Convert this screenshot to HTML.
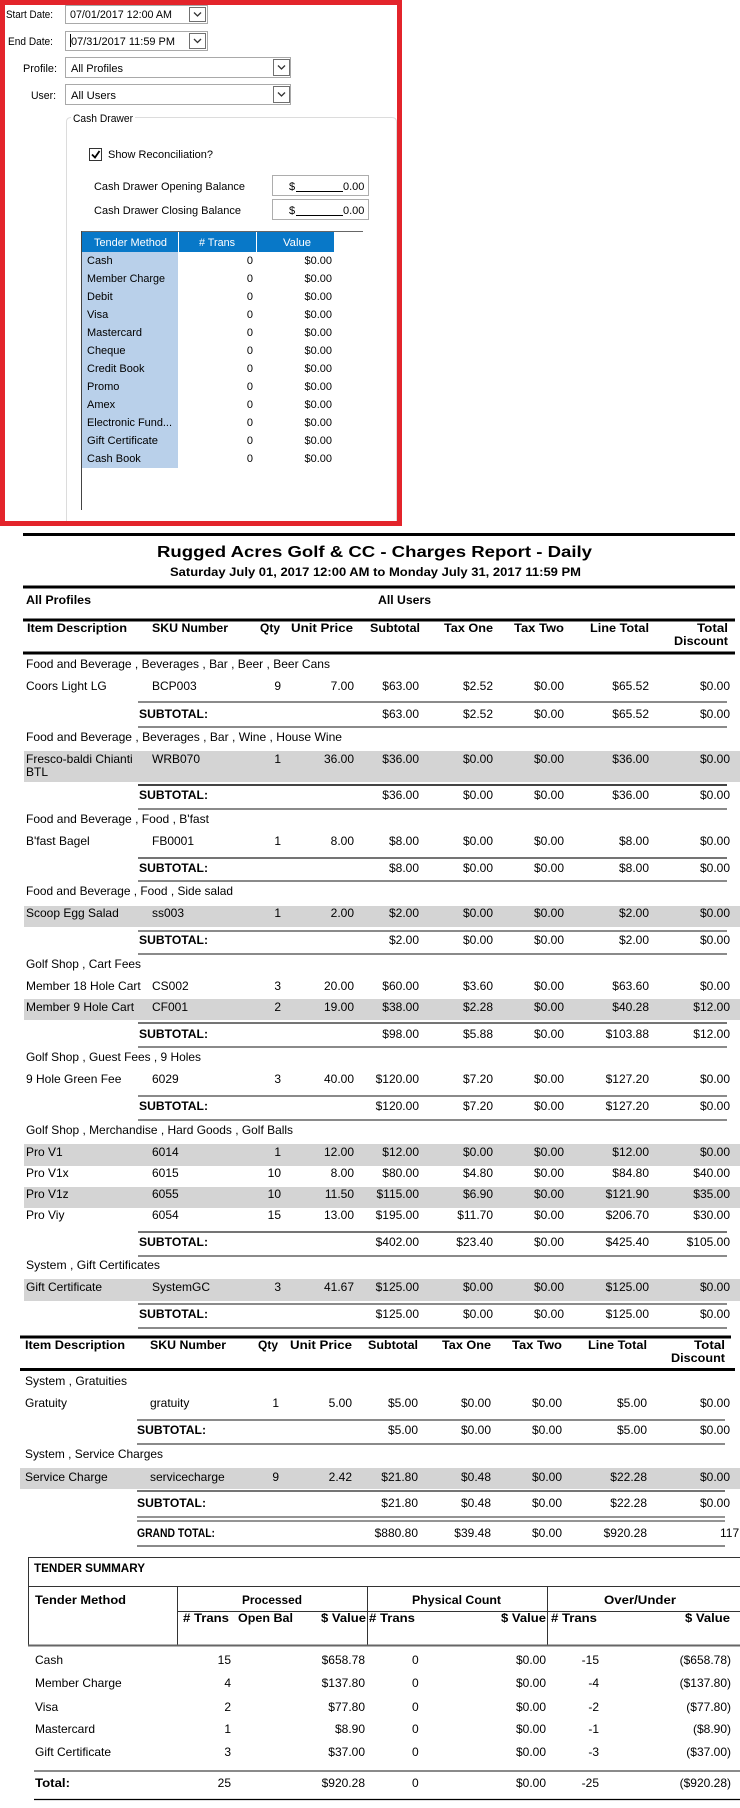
<!DOCTYPE html>
<html><head><meta charset="utf-8"><style>
html,body{margin:0;padding:0;background:#fff;}
svg{display:block;}
text{font-family:"Liberation Sans",Arial,sans-serif;font-size:12px;fill:#000;}
.u{font-size:11px;}
.b{font-weight:bold;}
.e{text-anchor:end;}
.m{text-anchor:middle;}
.w{fill:#fff;}
.g{stroke:#8a8a8a;stroke-width:2;}
.k{stroke:#222;stroke-width:1.3;}
.t{stroke:#000;stroke-width:3;}
</style></head><body>
<svg width="740" height="1808" viewBox="0 0 740 1808" xmlns="http://www.w3.org/2000/svg">
<defs>
<clipPath id="c1"><rect x="273" y="176" width="92" height="19"/></clipPath>
<clipPath id="c2"><rect x="273" y="200" width="92" height="19"/></clipPath>
</defs>
<rect width="740" height="1808" fill="#fff"/>

<!-- ===== TOP UI PANEL ===== -->
<text x="6" y="18" class="u" textLength="47" lengthAdjust="spacingAndGlyphs">Start Date:</text>
<rect x="65.5" y="5.5" width="142" height="18" fill="#fff" stroke="#a9a9a9"/>
<text x="70" y="18" class="u" textLength="102" lengthAdjust="spacingAndGlyphs">07/01/2017 12:00 AM</text>
<rect x="189.5" y="7.5" width="16" height="14" fill="#fff" stroke="#707070"/>
<polyline points="194,12.5 197.5,16 201,12.5" fill="none" stroke="#333" stroke-width="1.3"/>

<text x="8" y="45" class="u" textLength="45" lengthAdjust="spacingAndGlyphs">End Date:</text>
<rect x="65.5" y="31.5" width="142" height="19" fill="#fff" stroke="#a9a9a9"/>
<line x1="70.5" y1="34" x2="70.5" y2="47" stroke="#000"/>
<text x="71" y="45" class="u" textLength="104" lengthAdjust="spacingAndGlyphs">07/31/2017 11:59 PM</text>
<rect x="189.5" y="33.5" width="16" height="15" fill="#fff" stroke="#707070"/>
<polyline points="194,39 197.5,42.5 201,39" fill="none" stroke="#333" stroke-width="1.3"/>

<text x="23" y="72" class="u" textLength="34" lengthAdjust="spacingAndGlyphs">Profile:</text>
<rect x="65.5" y="57.5" width="225" height="20" fill="#fff" stroke="#a9a9a9"/>
<text x="71" y="72" class="u" textLength="52" lengthAdjust="spacingAndGlyphs">All Profiles</text>
<rect x="273.5" y="59.5" width="16" height="16" fill="#fff" stroke="#707070"/>
<polyline points="278,65.5 281.5,69 285,65.5" fill="none" stroke="#333" stroke-width="1.3"/>

<text x="31" y="99" class="u" textLength="25" lengthAdjust="spacingAndGlyphs">User:</text>
<rect x="65.5" y="84.5" width="225" height="20" fill="#fff" stroke="#a9a9a9"/>
<text x="71" y="99" class="u" textLength="45" lengthAdjust="spacingAndGlyphs">All Users</text>
<rect x="273.5" y="86.5" width="16" height="16" fill="#fff" stroke="#707070"/>
<polyline points="278,92.5 281.5,96 285,92.5" fill="none" stroke="#333" stroke-width="1.3"/>

<path d="M66.5,522 V122 Q66.5,117.5 71,117.5 H392 Q396.5,117.5 396.5,122 V522" fill="none" stroke="#dcdcdc"/>
<rect x="71" y="110" width="64" height="14" fill="#fff"/>
<text x="73" y="122" class="u" textLength="60" lengthAdjust="spacingAndGlyphs">Cash Drawer</text>

<rect x="89.5" y="148.5" width="12" height="12" fill="#fff" stroke="#333"/>
<polyline points="92,154.5 95,157.5 99.5,151" fill="none" stroke="#000" stroke-width="1.8"/>
<text x="108" y="158" class="u" textLength="105" lengthAdjust="spacingAndGlyphs">Show Reconciliation?</text>

<text x="94" y="190" class="u" textLength="151" lengthAdjust="spacingAndGlyphs">Cash Drawer Opening Balance</text>
<rect x="272.5" y="175.5" width="96" height="20" fill="#fff" stroke="#adadad"/>
<g clip-path="url(#c1)"><text x="289" y="190" class="u">$</text><line x1="296" y1="191.5" x2="343" y2="191.5" stroke="#000"/><text x="343" y="190" class="u">0.00</text></g>

<text x="94" y="214" class="u" textLength="147" lengthAdjust="spacingAndGlyphs">Cash Drawer Closing Balance</text>
<rect x="272.5" y="199.5" width="96" height="20" fill="#fff" stroke="#adadad"/>
<g clip-path="url(#c2)"><text x="289" y="214" class="u">$</text><line x1="296" y1="215.5" x2="343" y2="215.5" stroke="#000"/><text x="343" y="214" class="u">0.00</text></g>

<line x1="81" y1="231.5" x2="363" y2="231.5" stroke="#666"/>
<rect x="82" y="232" width="96" height="20" fill="#0878c8"/>
<rect x="179" y="232" width="77" height="20" fill="#0878c8"/>
<rect x="257" y="232" width="77" height="20" fill="#0878c8"/>
<text x="94" y="246" class="u w" textLength="73" lengthAdjust="spacingAndGlyphs">Tender Method</text>
<text x="199" y="246" class="u w" textLength="36" lengthAdjust="spacingAndGlyphs"># Trans</text>
<text x="283" y="246" class="u w" textLength="28" lengthAdjust="spacingAndGlyphs">Value</text>
<rect x="82" y="252" width="96" height="216" fill="#b9d0ea"/>
<line x1="81.5" y1="231" x2="81.5" y2="510" stroke="#444"/>
<g class="u">
<text x="87" y="264" class="u">Cash</text><text x="253" y="264" class="u e">0</text><text x="332" y="264" class="u e">$0.00</text>
<text x="87" y="282" class="u" textLength="78" lengthAdjust="spacingAndGlyphs">Member Charge</text><text x="253" y="282" class="u e">0</text><text x="332" y="282" class="u e">$0.00</text>
<text x="87" y="300" class="u">Debit</text><text x="253" y="300" class="u e">0</text><text x="332" y="300" class="u e">$0.00</text>
<text x="87" y="318" class="u">Visa</text><text x="253" y="318" class="u e">0</text><text x="332" y="318" class="u e">$0.00</text>
<text x="87" y="336" class="u">Mastercard</text><text x="253" y="336" class="u e">0</text><text x="332" y="336" class="u e">$0.00</text>
<text x="87" y="354" class="u">Cheque</text><text x="253" y="354" class="u e">0</text><text x="332" y="354" class="u e">$0.00</text>
<text x="87" y="372" class="u">Credit Book</text><text x="253" y="372" class="u e">0</text><text x="332" y="372" class="u e">$0.00</text>
<text x="87" y="390" class="u">Promo</text><text x="253" y="390" class="u e">0</text><text x="332" y="390" class="u e">$0.00</text>
<text x="87" y="408" class="u">Amex</text><text x="253" y="408" class="u e">0</text><text x="332" y="408" class="u e">$0.00</text>
<text x="87" y="426" class="u" textLength="85" lengthAdjust="spacingAndGlyphs">Electronic Fund...</text><text x="253" y="426" class="u e">0</text><text x="332" y="426" class="u e">$0.00</text>
<text x="87" y="444" class="u" textLength="71" lengthAdjust="spacingAndGlyphs">Gift Certificate</text><text x="253" y="444" class="u e">0</text><text x="332" y="444" class="u e">$0.00</text>
<text x="87" y="462" class="u">Cash Book</text><text x="253" y="462" class="u e">0</text><text x="332" y="462" class="u e">$0.00</text>
</g>
<rect x="2.5" y="2.5" width="397" height="521" fill="none" stroke="#e3242b" stroke-width="5"/>

<!-- ===== REPORT ===== -->
<line x1="23" y1="534.5" x2="735" y2="534.5" class="t"/>
<text x="157" y="557" class="b" style="font-size:16px" textLength="435" lengthAdjust="spacingAndGlyphs">Rugged Acres Golf &amp; CC - Charges Report - Daily</text>
<text x="170" y="576" class="b" style="font-size:11.5px" textLength="411" lengthAdjust="spacingAndGlyphs">Saturday July 01, 2017 12:00 AM to Monday July 31, 2017 11:59 PM</text>
<line x1="23" y1="587" x2="735" y2="587" class="t"/>
<text x="26" y="604" class="b" textLength="65" lengthAdjust="spacingAndGlyphs">All Profiles</text>
<text x="378" y="604" class="b" textLength="53" lengthAdjust="spacingAndGlyphs">All Users</text>
<line x1="23" y1="620" x2="735" y2="620" class="t"/>

<g class="b">
<text x="27" y="632" class="b" textLength="100" lengthAdjust="spacingAndGlyphs">Item Description</text>
<text x="152" y="632" class="b" textLength="76" lengthAdjust="spacingAndGlyphs">SKU Number</text>
<text x="260" y="632" class="b" textLength="20" lengthAdjust="spacingAndGlyphs">Qty</text>
<text x="291" y="632" class="b" textLength="62" lengthAdjust="spacingAndGlyphs">Unit Price</text>
<text x="370" y="632" class="b" textLength="50" lengthAdjust="spacingAndGlyphs">Subtotal</text>
<text x="444" y="632" class="b" textLength="49" lengthAdjust="spacingAndGlyphs">Tax One</text>
<text x="514" y="632" class="b" textLength="50" lengthAdjust="spacingAndGlyphs">Tax Two</text>
<text x="590" y="632" class="b" textLength="59" lengthAdjust="spacingAndGlyphs">Line Total</text>
<text x="697" y="632" class="b" textLength="31" lengthAdjust="spacingAndGlyphs">Total</text>
<text x="674" y="645" class="b" textLength="54" lengthAdjust="spacingAndGlyphs">Discount</text>
</g>
<line x1="23" y1="653" x2="735" y2="653" class="t"/>

<!-- group 1 -->
<text x="26" y="668" textLength="304" lengthAdjust="spacingAndGlyphs">Food and Beverage , Beverages , Bar , Beer , Beer Cans</text>
<text x="26" y="690">Coors Light LG</text><text x="152" y="690">BCP003</text><text x="281" y="690" class="e">9</text><text x="354" y="690" class="e">7.00</text><text x="419" y="690" class="e">$63.00</text><text x="493" y="690" class="e">$2.52</text><text x="564" y="690" class="e">$0.00</text><text x="649" y="690" class="e">$65.52</text><text x="730" y="690" class="e">$0.00</text>
<line x1="138" y1="702" x2="727" y2="702" class="g"/>
<text x="139" y="718" class="b" textLength="69" lengthAdjust="spacingAndGlyphs">SUBTOTAL:</text><text x="419" y="718" class="e">$63.00</text><text x="493" y="718" class="e">$2.52</text><text x="564" y="718" class="e">$0.00</text><text x="649" y="718" class="e">$65.52</text><text x="730" y="718" class="e">$0.00</text>
<line x1="138" y1="727" x2="727" y2="727" class="g"/>

<!-- group 2 -->
<text x="26" y="741" textLength="316" lengthAdjust="spacingAndGlyphs">Food and Beverage , Beverages , Bar , Wine , House Wine</text>
<rect x="24" y="751" width="716" height="31" fill="#d4d4d4"/>
<text x="26" y="763">Fresco-baldi Chianti</text><text x="26" y="776">BTL</text><text x="152" y="763">WRB070</text><text x="281" y="763" class="e">1</text><text x="354" y="763" class="e">36.00</text><text x="419" y="763" class="e">$36.00</text><text x="493" y="763" class="e">$0.00</text><text x="564" y="763" class="e">$0.00</text><text x="649" y="763" class="e">$36.00</text><text x="730" y="763" class="e">$0.00</text>
<line x1="138" y1="785" x2="727" y2="785" stroke="#444" stroke-width="2"/>
<text x="139" y="799" class="b" textLength="69" lengthAdjust="spacingAndGlyphs">SUBTOTAL:</text><text x="419" y="799" class="e">$36.00</text><text x="493" y="799" class="e">$0.00</text><text x="564" y="799" class="e">$0.00</text><text x="649" y="799" class="e">$36.00</text><text x="730" y="799" class="e">$0.00</text>
<line x1="138" y1="809" x2="727" y2="809" class="g"/>

<!-- group 3 -->
<text x="26" y="823" textLength="183" lengthAdjust="spacingAndGlyphs">Food and Beverage , Food , B'fast</text>
<text x="26" y="845">B'fast Bagel</text><text x="152" y="845">FB0001</text><text x="281" y="845" class="e">1</text><text x="354" y="845" class="e">8.00</text><text x="419" y="845" class="e">$8.00</text><text x="493" y="845" class="e">$0.00</text><text x="564" y="845" class="e">$0.00</text><text x="649" y="845" class="e">$8.00</text><text x="730" y="845" class="e">$0.00</text>
<line x1="138" y1="858" x2="727" y2="858" class="k"/>
<text x="139" y="872" class="b" textLength="69" lengthAdjust="spacingAndGlyphs">SUBTOTAL:</text><text x="419" y="872" class="e">$8.00</text><text x="493" y="872" class="e">$0.00</text><text x="564" y="872" class="e">$0.00</text><text x="649" y="872" class="e">$8.00</text><text x="730" y="872" class="e">$0.00</text>
<line x1="138" y1="881" x2="727" y2="881" class="g"/>

<!-- group 4 -->
<text x="26" y="895" textLength="207" lengthAdjust="spacingAndGlyphs">Food and Beverage , Food , Side salad</text>
<rect x="24" y="906" width="716" height="21" fill="#d4d4d4"/>
<text x="26" y="917">Scoop Egg Salad</text><text x="152" y="917">ss003</text><text x="281" y="917" class="e">1</text><text x="354" y="917" class="e">2.00</text><text x="419" y="917" class="e">$2.00</text><text x="493" y="917" class="e">$0.00</text><text x="564" y="917" class="e">$0.00</text><text x="649" y="917" class="e">$2.00</text><text x="730" y="917" class="e">$0.00</text>
<line x1="138" y1="931" x2="727" y2="931" class="g"/>
<text x="139" y="944" class="b" textLength="69" lengthAdjust="spacingAndGlyphs">SUBTOTAL:</text><text x="419" y="944" class="e">$2.00</text><text x="493" y="944" class="e">$0.00</text><text x="564" y="944" class="e">$0.00</text><text x="649" y="944" class="e">$2.00</text><text x="730" y="944" class="e">$0.00</text>
<line x1="138" y1="954" x2="727" y2="954" class="g"/>

<!-- group 5 -->
<text x="26" y="968" textLength="115" lengthAdjust="spacingAndGlyphs">Golf Shop , Cart Fees</text>
<text x="26" y="990">Member 18 Hole Cart</text><text x="152" y="990">CS002</text><text x="281" y="990" class="e">3</text><text x="354" y="990" class="e">20.00</text><text x="419" y="990" class="e">$60.00</text><text x="493" y="990" class="e">$3.60</text><text x="564" y="990" class="e">$0.00</text><text x="649" y="990" class="e">$63.60</text><text x="730" y="990" class="e">$0.00</text>
<rect x="24" y="999" width="716" height="21" fill="#d4d4d4"/>
<text x="26" y="1011">Member 9 Hole Cart</text><text x="152" y="1011">CF001</text><text x="281" y="1011" class="e">2</text><text x="354" y="1011" class="e">19.00</text><text x="419" y="1011" class="e">$38.00</text><text x="493" y="1011" class="e">$2.28</text><text x="564" y="1011" class="e">$0.00</text><text x="649" y="1011" class="e">$40.28</text><text x="730" y="1011" class="e">$12.00</text>
<line x1="138" y1="1023" x2="727" y2="1023" class="k"/>
<text x="139" y="1038" class="b" textLength="69" lengthAdjust="spacingAndGlyphs">SUBTOTAL:</text><text x="419" y="1038" class="e">$98.00</text><text x="493" y="1038" class="e">$5.88</text><text x="564" y="1038" class="e">$0.00</text><text x="649" y="1038" class="e">$103.88</text><text x="730" y="1038" class="e">$12.00</text>
<line x1="138" y1="1047" x2="727" y2="1047" class="g"/>

<!-- group 6 -->
<text x="26" y="1061" textLength="175" lengthAdjust="spacingAndGlyphs">Golf Shop , Guest Fees , 9 Holes</text>
<text x="26" y="1083">9 Hole Green Fee</text><text x="152" y="1083">6029</text><text x="281" y="1083" class="e">3</text><text x="354" y="1083" class="e">40.00</text><text x="419" y="1083" class="e">$120.00</text><text x="493" y="1083" class="e">$7.20</text><text x="564" y="1083" class="e">$0.00</text><text x="649" y="1083" class="e">$127.20</text><text x="730" y="1083" class="e">$0.00</text>
<line x1="138" y1="1096" x2="727" y2="1096" class="g"/>
<text x="139" y="1110" class="b" textLength="69" lengthAdjust="spacingAndGlyphs">SUBTOTAL:</text><text x="419" y="1110" class="e">$120.00</text><text x="493" y="1110" class="e">$7.20</text><text x="564" y="1110" class="e">$0.00</text><text x="649" y="1110" class="e">$127.20</text><text x="730" y="1110" class="e">$0.00</text>
<line x1="138" y1="1120" x2="727" y2="1120" class="g"/>

<!-- group 7 -->
<text x="26" y="1134" textLength="267" lengthAdjust="spacingAndGlyphs">Golf Shop , Merchandise , Hard Goods , Golf Balls</text>
<rect x="24" y="1144" width="716" height="22" fill="#d4d4d4"/>
<text x="26" y="1156">Pro V1</text><text x="152" y="1156">6014</text><text x="281" y="1156" class="e">1</text><text x="354" y="1156" class="e">12.00</text><text x="419" y="1156" class="e">$12.00</text><text x="493" y="1156" class="e">$0.00</text><text x="564" y="1156" class="e">$0.00</text><text x="649" y="1156" class="e">$12.00</text><text x="730" y="1156" class="e">$0.00</text>
<text x="26" y="1177">Pro V1x</text><text x="152" y="1177">6015</text><text x="281" y="1177" class="e">10</text><text x="354" y="1177" class="e">8.00</text><text x="419" y="1177" class="e">$80.00</text><text x="493" y="1177" class="e">$4.80</text><text x="564" y="1177" class="e">$0.00</text><text x="649" y="1177" class="e">$84.80</text><text x="730" y="1177" class="e">$40.00</text>
<rect x="24" y="1187" width="716" height="21" fill="#d4d4d4"/>
<text x="26" y="1198">Pro V1z</text><text x="152" y="1198">6055</text><text x="281" y="1198" class="e">10</text><text x="354" y="1198" class="e">11.50</text><text x="419" y="1198" class="e">$115.00</text><text x="493" y="1198" class="e">$6.90</text><text x="564" y="1198" class="e">$0.00</text><text x="649" y="1198" class="e">$121.90</text><text x="730" y="1198" class="e">$35.00</text>
<text x="26" y="1219">Pro Viy</text><text x="152" y="1219">6054</text><text x="281" y="1219" class="e">15</text><text x="354" y="1219" class="e">13.00</text><text x="419" y="1219" class="e">$195.00</text><text x="493" y="1219" class="e">$11.70</text><text x="564" y="1219" class="e">$0.00</text><text x="649" y="1219" class="e">$206.70</text><text x="730" y="1219" class="e">$30.00</text>
<line x1="138" y1="1232" x2="727" y2="1232" class="k"/>
<text x="139" y="1246" class="b" textLength="69" lengthAdjust="spacingAndGlyphs">SUBTOTAL:</text><text x="419" y="1246" class="e">$402.00</text><text x="493" y="1246" class="e">$23.40</text><text x="564" y="1246" class="e">$0.00</text><text x="649" y="1246" class="e">$425.40</text><text x="730" y="1246" class="e">$105.00</text>
<line x1="138" y1="1256" x2="727" y2="1256" class="g"/>

<!-- group 8 -->
<text x="26" y="1269" textLength="134" lengthAdjust="spacingAndGlyphs">System , Gift Certificates</text>
<rect x="24" y="1279" width="716" height="22" fill="#d4d4d4"/>
<text x="26" y="1291">Gift Certificate</text><text x="152" y="1291">SystemGC</text><text x="281" y="1291" class="e">3</text><text x="354" y="1291" class="e">41.67</text><text x="419" y="1291" class="e">$125.00</text><text x="493" y="1291" class="e">$0.00</text><text x="564" y="1291" class="e">$0.00</text><text x="649" y="1291" class="e">$125.00</text><text x="730" y="1291" class="e">$0.00</text>
<line x1="138" y1="1304" x2="727" y2="1304" class="g"/>
<text x="139" y="1318" class="b" textLength="69" lengthAdjust="spacingAndGlyphs">SUBTOTAL:</text><text x="419" y="1318" class="e">$125.00</text><text x="493" y="1318" class="e">$0.00</text><text x="564" y="1318" class="e">$0.00</text><text x="649" y="1318" class="e">$125.00</text><text x="730" y="1318" class="e">$0.00</text>
<line x1="138" y1="1328" x2="727" y2="1328" class="g"/>

<!-- header 2 -->
<line x1="20" y1="1337" x2="731" y2="1337" class="t"/>
<text x="25" y="1349" class="b" textLength="100" lengthAdjust="spacingAndGlyphs">Item Description</text>
<text x="150" y="1349" class="b" textLength="76" lengthAdjust="spacingAndGlyphs">SKU Number</text>
<text x="258" y="1349" class="b" textLength="20" lengthAdjust="spacingAndGlyphs">Qty</text>
<text x="290" y="1349" class="b" textLength="62" lengthAdjust="spacingAndGlyphs">Unit Price</text>
<text x="368" y="1349" class="b" textLength="50" lengthAdjust="spacingAndGlyphs">Subtotal</text>
<text x="442" y="1349" class="b" textLength="49" lengthAdjust="spacingAndGlyphs">Tax One</text>
<text x="512" y="1349" class="b" textLength="50" lengthAdjust="spacingAndGlyphs">Tax Two</text>
<text x="588" y="1349" class="b" textLength="59" lengthAdjust="spacingAndGlyphs">Line Total</text>
<text x="694" y="1349" class="b" textLength="31" lengthAdjust="spacingAndGlyphs">Total</text>
<text x="671" y="1362" class="b" textLength="54" lengthAdjust="spacingAndGlyphs">Discount</text>
<line x1="20" y1="1369.5" x2="735" y2="1369.5" class="t"/>

<!-- group 9 -->
<text x="25" y="1385" textLength="102" lengthAdjust="spacingAndGlyphs">System , Gratuities</text>
<text x="25" y="1407">Gratuity</text><text x="150" y="1407">gratuity</text><text x="279" y="1407" class="e">1</text><text x="352" y="1407" class="e">5.00</text><text x="418" y="1407" class="e">$5.00</text><text x="491" y="1407" class="e">$0.00</text><text x="562" y="1407" class="e">$0.00</text><text x="647" y="1407" class="e">$5.00</text><text x="730" y="1407" class="e">$0.00</text>
<line x1="137" y1="1420" x2="725" y2="1420" class="g"/>
<text x="137" y="1434" class="b" textLength="69" lengthAdjust="spacingAndGlyphs">SUBTOTAL:</text><text x="418" y="1434" class="e">$5.00</text><text x="491" y="1434" class="e">$0.00</text><text x="562" y="1434" class="e">$0.00</text><text x="647" y="1434" class="e">$5.00</text><text x="730" y="1434" class="e">$0.00</text>
<line x1="137" y1="1444" x2="725" y2="1444" class="g"/>

<!-- group 10 -->
<text x="25" y="1458" textLength="138" lengthAdjust="spacingAndGlyphs">System , Service Charges</text>
<rect x="20" y="1468" width="720" height="21" fill="#d4d4d4"/>
<text x="25" y="1481">Service Charge</text><text x="150" y="1481">servicecharge</text><text x="279" y="1481" class="e">9</text><text x="352" y="1481" class="e">2.42</text><text x="418" y="1481" class="e">$21.80</text><text x="491" y="1481" class="e">$0.48</text><text x="562" y="1481" class="e">$0.00</text><text x="647" y="1481" class="e">$22.28</text><text x="730" y="1481" class="e">$0.00</text>
<line x1="137" y1="1491" x2="725" y2="1491" class="k"/>
<text x="137" y="1507" class="b" textLength="69" lengthAdjust="spacingAndGlyphs">SUBTOTAL:</text><text x="418" y="1507" class="e">$21.80</text><text x="491" y="1507" class="e">$0.48</text><text x="562" y="1507" class="e">$0.00</text><text x="647" y="1507" class="e">$22.28</text><text x="730" y="1507" class="e">$0.00</text>
<line x1="137" y1="1517" x2="725" y2="1517" stroke="#555" stroke-width="1.2"/>
<line x1="137" y1="1521" x2="725" y2="1521" stroke="#555" stroke-width="1.2"/>
<text x="137" y="1537" class="b" textLength="78" lengthAdjust="spacingAndGlyphs">GRAND TOTAL:</text><text x="418" y="1537" class="e">$880.80</text><text x="491" y="1537" class="e">$39.48</text><text x="562" y="1537" class="e">$0.00</text><text x="647" y="1537" class="e">$920.28</text><text x="720" y="1537">117</text>
<line x1="137" y1="1546" x2="725" y2="1546" class="g"/>

<!-- ===== TENDER SUMMARY ===== -->
<line x1="28" y1="1557.5" x2="740" y2="1557.5" stroke="#333"/>
<line x1="28.5" y1="1557" x2="28.5" y2="1646" stroke="#333"/>
<text x="34" y="1572" class="b" textLength="111" lengthAdjust="spacingAndGlyphs">TENDER SUMMARY</text>
<line x1="28" y1="1586.5" x2="740" y2="1586.5" stroke="#333"/>
<line x1="177.5" y1="1586" x2="177.5" y2="1645" stroke="#333"/>
<line x1="367.5" y1="1586" x2="367.5" y2="1645" stroke="#333"/>
<line x1="547.5" y1="1586" x2="547.5" y2="1645" stroke="#333"/>
<line x1="177" y1="1611.5" x2="740" y2="1611.5" stroke="#333"/>
<line x1="28" y1="1645.5" x2="740" y2="1645.5" stroke="#666" stroke-width="2"/>
<text x="35" y="1604" class="b" textLength="91" lengthAdjust="spacingAndGlyphs">Tender Method</text>
<text x="242" y="1604" class="b" textLength="60" lengthAdjust="spacingAndGlyphs">Processed</text>
<text x="412" y="1604" class="b" textLength="89" lengthAdjust="spacingAndGlyphs">Physical Count</text>
<text x="604" y="1604" class="b" textLength="72" lengthAdjust="spacingAndGlyphs">Over/Under</text>
<text x="183" y="1622" class="b" textLength="46" lengthAdjust="spacingAndGlyphs"># Trans</text>
<text x="238" y="1622" class="b" textLength="55" lengthAdjust="spacingAndGlyphs">Open Bal</text>
<text x="321" y="1622" class="b" textLength="45" lengthAdjust="spacingAndGlyphs">$ Value</text>
<text x="369" y="1622" class="b" textLength="46" lengthAdjust="spacingAndGlyphs"># Trans</text>
<text x="501" y="1622" class="b" textLength="45" lengthAdjust="spacingAndGlyphs">$ Value</text>
<text x="551" y="1622" class="b" textLength="46" lengthAdjust="spacingAndGlyphs"># Trans</text>
<text x="685" y="1622" class="b" textLength="45" lengthAdjust="spacingAndGlyphs">$ Value</text>

<text x="35" y="1664">Cash</text><text x="231" y="1664" class="e">15</text><text x="365" y="1664" class="e">$658.78</text><text x="412" y="1664">0</text><text x="546" y="1664" class="e">$0.00</text><text x="599" y="1664" class="e">-15</text><text x="731" y="1664" class="e">($658.78)</text>
<text x="35" y="1687">Member Charge</text><text x="231" y="1687" class="e">4</text><text x="365" y="1687" class="e">$137.80</text><text x="412" y="1687">0</text><text x="546" y="1687" class="e">$0.00</text><text x="599" y="1687" class="e">-4</text><text x="731" y="1687" class="e">($137.80)</text>
<text x="35" y="1711">Visa</text><text x="231" y="1711" class="e">2</text><text x="365" y="1711" class="e">$77.80</text><text x="412" y="1711">0</text><text x="546" y="1711" class="e">$0.00</text><text x="599" y="1711" class="e">-2</text><text x="731" y="1711" class="e">($77.80)</text>
<text x="35" y="1733">Mastercard</text><text x="231" y="1733" class="e">1</text><text x="365" y="1733" class="e">$8.90</text><text x="412" y="1733">0</text><text x="546" y="1733" class="e">$0.00</text><text x="599" y="1733" class="e">-1</text><text x="731" y="1733" class="e">($8.90)</text>
<text x="35" y="1756">Gift Certificate</text><text x="231" y="1756" class="e">3</text><text x="365" y="1756" class="e">$37.00</text><text x="412" y="1756">0</text><text x="546" y="1756" class="e">$0.00</text><text x="599" y="1756" class="e">-3</text><text x="731" y="1756" class="e">($37.00)</text>
<line x1="34" y1="1771" x2="740" y2="1771" class="g"/>
<text x="35" y="1787" class="b" textLength="35" lengthAdjust="spacingAndGlyphs">Total:</text><text x="231" y="1787" class="e">25</text><text x="365" y="1787" class="e">$920.28</text><text x="412" y="1787">0</text><text x="546" y="1787" class="e">$0.00</text><text x="599" y="1787" class="e">-25</text><text x="731" y="1787" class="e">($920.28)</text>
<line x1="34" y1="1799.5" x2="740" y2="1799.5" stroke="#000" stroke-width="1.2"/>
</svg>
</body></html>
